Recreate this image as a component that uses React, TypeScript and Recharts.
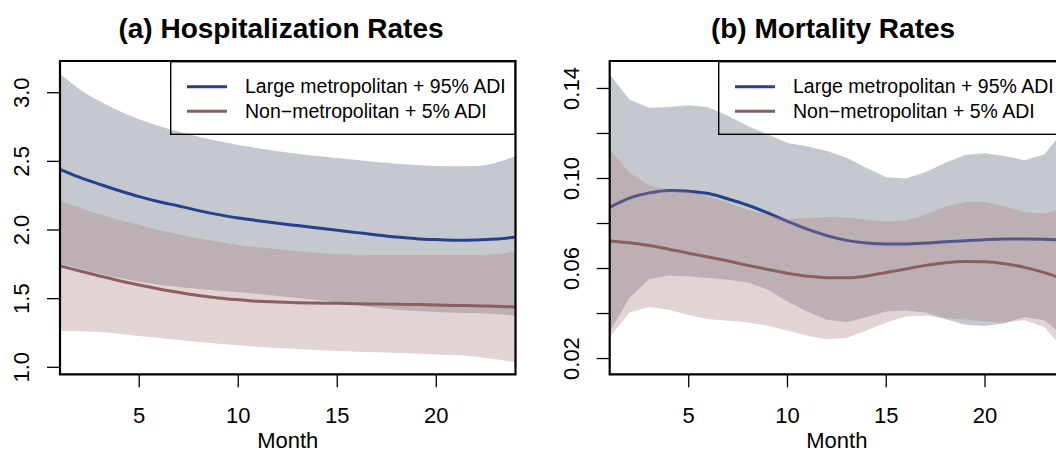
import { ComposedChart, Area, Line, XAxis, YAxis, ReferenceArea, Legend, Label } from 'recharts';

// Monthly estimates with 95% bands
const months = [1, 2, 3, 4, 5, 6, 7, 8, 9, 10, 11, 12, 13, 14, 15, 16, 17, 18, 19, 20, 21, 22, 23, 24];

// (a) hospitalization rates
const metroHospFit = [2.442, 2.383, 2.333, 2.286, 2.243, 2.206, 2.175, 2.141, 2.112, 2.087, 2.068, 2.049, 2.032, 2.015, 1.998, 1.981, 1.964, 1.949, 1.937, 1.93, 1.925, 1.927, 1.934, 1.949];
const metroHospHigh = [3.14, 3.024, 2.939, 2.867, 2.806, 2.757, 2.716, 2.68, 2.648, 2.619, 2.595, 2.573, 2.556, 2.539, 2.524, 2.51, 2.495, 2.483, 2.473, 2.466, 2.464, 2.466, 2.49, 2.539];
const metroHospLow = [1.757, 1.718, 1.682, 1.65, 1.624, 1.602, 1.585, 1.57, 1.558, 1.546, 1.534, 1.519, 1.505, 1.49, 1.473, 1.454, 1.434, 1.42, 1.41, 1.403, 1.398, 1.395, 1.388, 1.376];
const ruralHospFit = [1.74, 1.701, 1.665, 1.631, 1.6, 1.571, 1.546, 1.523, 1.505, 1.492, 1.481, 1.476, 1.471, 1.468, 1.466, 1.463, 1.461, 1.459, 1.457, 1.454, 1.451, 1.449, 1.444, 1.439];
const ruralHospHigh = [2.211, 2.163, 2.114, 2.073, 2.036, 2.0, 1.968, 1.939, 1.915, 1.891, 1.874, 1.859, 1.845, 1.833, 1.825, 1.82, 1.818, 1.818, 1.818, 1.818, 1.818, 1.818, 1.825, 1.842];
const ruralHospLow = [1.267, 1.262, 1.257, 1.245, 1.228, 1.213, 1.199, 1.184, 1.172, 1.16, 1.15, 1.14, 1.133, 1.126, 1.118, 1.114, 1.109, 1.104, 1.099, 1.094, 1.087, 1.077, 1.058, 1.036];

// (b) mortality rates
const metroMortFit = [0.0872, 0.0913, 0.0936, 0.0947, 0.0943, 0.0933, 0.0909, 0.0881, 0.0847, 0.0809, 0.0775, 0.0746, 0.0725, 0.0713, 0.0709, 0.0709, 0.0713, 0.0719, 0.0723, 0.0728, 0.0731, 0.0731, 0.073, 0.0725];
const metroMortHigh = [0.1462, 0.1351, 0.1314, 0.1318, 0.1325, 0.1316, 0.1278, 0.1232, 0.1196, 0.1158, 0.1143, 0.1122, 0.1092, 0.1047, 0.1006, 0.1, 0.1029, 0.107, 0.1104, 0.1112, 0.11, 0.1081, 0.1107, 0.1215];
const metroMortLow = [0.032, 0.0469, 0.0553, 0.0569, 0.0565, 0.0558, 0.055, 0.0538, 0.0506, 0.0454, 0.0409, 0.0372, 0.0362, 0.0384, 0.0409, 0.0414, 0.0405, 0.0375, 0.035, 0.0345, 0.0357, 0.0385, 0.037, 0.03];
const ruralMortFit = [0.0722, 0.0714, 0.0702, 0.0686, 0.0668, 0.0651, 0.0633, 0.0614, 0.0596, 0.0579, 0.0566, 0.0559, 0.0559, 0.0567, 0.0582, 0.0598, 0.0614, 0.0626, 0.0631, 0.063, 0.0621, 0.0605, 0.0582, 0.0552];
const ruralMortHigh = [0.1129, 0.1025, 0.097, 0.095, 0.0943, 0.0921, 0.0891, 0.0861, 0.0839, 0.0821, 0.0824, 0.0829, 0.0827, 0.0817, 0.0809, 0.0814, 0.0839, 0.0876, 0.0896, 0.0896, 0.0876, 0.085, 0.0844, 0.0869];
const ruralMortLow = [0.0295, 0.0405, 0.0429, 0.0417, 0.0394, 0.0375, 0.0368, 0.036, 0.0346, 0.0325, 0.0301, 0.0286, 0.0292, 0.0325, 0.036, 0.0387, 0.039, 0.038, 0.0372, 0.0365, 0.036, 0.037, 0.034, 0.024];

const seriesNames = ['Large metropolitan + 95% ADI', 'Non\u2212metropolitan + 5% ADI'];
const panelTitles = ['(a) Hospitalization Rates', '(b) Mortality Rates'];
const xTicks = [5, 10, 15, 20];
const hospTicks = [1.0, 1.5, 2.0, 2.5, 3.0];
const mortTicks = [0.02, 0.04, 0.06, 0.08, 0.1, 0.12, 0.14];
const mortLabelled = ['0.02', '0.06', '0.10', '0.14'];

const FONT = '"Liberation Sans", Arial, Helvetica, sans-serif';
const BLUE = '#27408b';
const RED = '#8b5f5f';
const BLUE_BAND = '#c4c9cf';
const RED_BAND = '#af8184';
const LEG_W = 346;
const LEG_H = 74;

const hospData = months.map((m, i) => ({
  month: m,
  metroBand: [metroHospLow[i], metroHospHigh[i]],
  metroFit: metroHospFit[i],
  ruralBand: [ruralHospLow[i], ruralHospHigh[i]],
  ruralFit: ruralHospFit[i],
}));

const mortData = months.map((m, i) => ({
  month: m,
  metroBand: [metroMortLow[i], metroMortHigh[i]],
  metroFit: metroMortFit[i],
  ruralBand: [ruralMortLow[i], ruralMortHigh[i]],
  ruralFit: ruralMortFit[i],
}));

function LegendBox({ payload }: any) {
  const items = (payload ?? [])
    .filter((p: any) => p.type !== 'none')
    .sort((a: any, b: any) => seriesNames.indexOf(a.value) - seriesNames.indexOf(b.value));
  return (
    <svg width={LEG_W} height={LEG_H} style={{ display: 'block', overflow: 'visible' }}>
      <rect x={0.7} y={0.7} width={LEG_W - 1.4} height={LEG_H - 1.4} fill="none" stroke="#000" strokeWidth={1.4} />
      {items.map((it: any, i: number) => (
        <g key={it.value}>
          <line x1={17} x2={57} y1={25.7 + i * 24.5} y2={25.7 + i * 24.5} stroke={it.color} strokeWidth={3} />
          <text x={75} y={32 + i * 24.5} fontSize={19.5} fontFamily={FONT} fill="#000">
            {it.value}
          </text>
        </g>
      ))}
    </svg>
  );
}

const XTick = ({ x, y, payload }: any) => (
  <text x={x} y={y + 33.4} textAnchor="middle" fontSize={22} fontFamily={FONT} fill="#000">
    {payload.value}
  </text>
);

const makeYTick = (fmt: (v: number) => string | null) => ({ x, y, payload }: any) => {
  const label = fmt(payload.value);
  if (!label) return <g />;
  const bx = x - 15.5;
  return (
    <text x={bx} y={y} transform={`rotate(-90 ${bx} ${y})`} textAnchor="middle" fontSize={22} fontFamily={FONT} fill="#000">
      {label}
    </text>
  );
};

const MonthLabel = ({ viewBox }: any) => (
  <text x={viewBox.x + viewBox.width / 2} y={viewBox.y + 73.4} textAnchor="middle" fontSize={22} fontFamily={FONT} fill="#000">
    Month
  </text>
);

interface PanelProps {
  data: any[];
  yDomain: [number, number];
  yTicks: number[];
  yFormat: (v: number) => string | null;
  marginLeft: number;
  marginRight: number;
  legendLeft: number;
  bandCurve: 'monotone' | 'linear';
}

// Layer order: blue band, blue line, red band (translucent, tints the blue line), red line, frame
function Panel({ data, yDomain, yTicks, yFormat, marginLeft, marginRight, legendLeft, bandCurve }: PanelProps) {
  return (
    <ComposedChart
      width={540}
      height={455}
      data={data}
      margin={{ top: 61, right: marginRight, bottom: 20.7, left: marginLeft }}
    >
      <XAxis
        type="number"
        dataKey="month"
        domain={[1, 24]}
        ticks={xTicks}
        allowDataOverflow
        axisLine={false}
        tickSize={13}
        tickMargin={2}
        tickLine={{ stroke: '#000', strokeWidth: 1.3 }}
        tick={XTick}
        height={60}
        interval={0}
      >
        <Label content={MonthLabel} />
      </XAxis>
      <YAxis
        type="number"
        domain={yDomain}
        ticks={yTicks}
        allowDataOverflow
        axisLine={false}
        tickSize={13}
        tickMargin={2}
        tickLine={{ stroke: '#000', strokeWidth: 1.3 }}
        tick={makeYTick(yFormat)}
        width={50}
        interval={0}
      />
      <Area
        type={bandCurve}
        dataKey="metroBand"
        stroke="none"
        fill={BLUE_BAND}
        fillOpacity={1}
        legendType="none"
        dot={false}
        activeDot={false}
        isAnimationActive={false}
        zIndex={100}
      />
      <Line
        type="monotone"
        dataKey="metroFit"
        name={seriesNames[0]}
        stroke={BLUE}
        strokeWidth={3}
        dot={false}
        activeDot={false}
        isAnimationActive={false}
        zIndex={110}
      />
      <Area
        type={bandCurve}
        dataKey="ruralBand"
        stroke="none"
        fill={RED_BAND}
        fillOpacity={0.35}
        legendType="none"
        dot={false}
        activeDot={false}
        isAnimationActive={false}
        zIndex={120}
      />
      <Line
        type="monotone"
        dataKey="ruralFit"
        name={seriesNames[1]}
        stroke={RED}
        strokeWidth={3}
        dot={false}
        activeDot={false}
        isAnimationActive={false}
        zIndex={130}
      />
      <ReferenceArea
        x1={1}
        x2={24}
        y1={yDomain[0]}
        y2={yDomain[1]}
        fill="none"
        stroke="#000"
        strokeWidth={2.2}
        ifOverflow="visible"
        zIndex={700}
      />
      <Legend
        layout="horizontal"
        verticalAlign="middle"
        align="center"
        content={LegendBox}
        wrapperStyle={{ left: legendLeft, top: 61, width: LEG_W, height: LEG_H }}
      />
    </ComposedChart>
  );
}

export default function App() {
  return (
    <div
      style={{
        position: 'absolute',
        left: 0,
        top: 0,
        width: 1056,
        height: 455,
        overflow: 'hidden',
        background: '#fff',
      }}
    >
      <div style={{ position: 'absolute', left: 0, top: 0 }}>
        <Panel
          data={hospData}
          yDomain={[0.949, 3.231]}
          yTicks={hospTicks}
          yFormat={(v) => v.toFixed(1)}
          marginLeft={10}
          marginRight={24.5}
          legendLeft={169.5}
          bandCurve="monotone"
        />
      </div>
      <div style={{ position: 'absolute', left: 540, top: 0 }}>
        <Panel
          data={mortData}
          yDomain={[0.013, 0.1522]}
          yTicks={mortTicks}
          yFormat={(v) => (mortLabelled.includes(v.toFixed(2)) ? v.toFixed(2) : null)}
          marginLeft={19.7}
          marginRight={16}
          legendLeft={178}
          bandCurve="linear"
        />
      </div>
      <svg width={1056} height={50} style={{ position: 'absolute', left: 0, top: 0, pointerEvents: 'none' }}>
        <text x={281} y={38.3} textAnchor="middle" fontSize={28} fontWeight="bold" fontFamily={FONT} fill="#000">
          {panelTitles[0]}
        </text>
        <text x={833} y={38.3} textAnchor="middle" fontSize={28} fontWeight="bold" fontFamily={FONT} fill="#000">
          {panelTitles[1]}
        </text>
      </svg>
    </div>
  );
}
